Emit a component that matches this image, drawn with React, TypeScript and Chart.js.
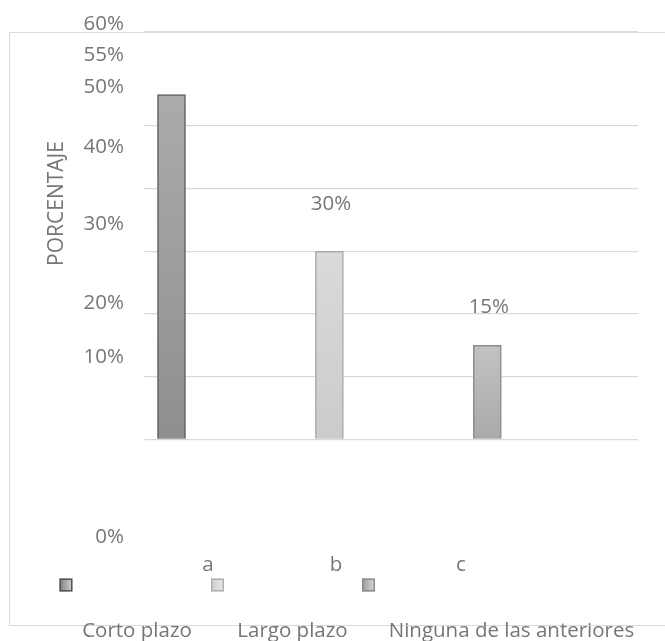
import React, { useEffect, useRef } from "react";
import { Chart, registerables } from "chart.js";

Chart.register(...registerables);

// ---------- data ----------
const categories = ["a", "b", "c"];
const seriesNames = ["Corto plazo", "Largo plazo", "Ninguna de las anteriores"];
const values = [55, 30, 15];
const valueLabels = ["", "30%", "15%"];
const yTickLabels = ["60%", "55%", "50%", "40%", "30%", "20%", "10%", "0%"];
const gridValues = [0, 10, 20, 30, 40, 50, 65];
const yTitle = "PORCENTAJE";

// ---------- layout / style ----------
const W = 665;
const H = 641;
const FONT = "20.5px 'Open Sans', 'DejaVu Sans', sans-serif";
const TITLE_FONT = "21px 'Open Sans', 'DejaVu Sans', sans-serif";
const TEXT = "#767676";
const tickBaselines = [30, 60.7, 92.7, 152.7, 230, 309.3, 362.7, 543.3];
const tickRight = 124;
const catLabelX = [208, 336, 461];
const catLabelBaseline = 571;
const legendBoxX = [66, 217.5, 368.5];
const legendBoxY = 585;
const legendBoxSize = 13;
const legendTextX = [137, 292.5, 511.5];
const legendTextBaseline = 637;
const labelLift = [0, 41, 32];
const barTop = ["#ababab", "#dadada", "#c2c2c2"];
const barBottom = ["#8f8f8f", "#cbcbcb", "#a9a9a9"];
const barBorder = ["#5e5e5e", "#a9a9a9", "#8c8c8c"];
const boxLeft = ["#7c7c7c", "#cdcdcd", "#9a9a9a"];
const boxRight = ["#d2d2d2", "#e8e8e8", "#dadada"];
const boxBorder = ["#555555", "#b0b0b0", "#8a8a8a"];

const decorPlugin = {
  id: "decor",
  beforeDraw(chart: any) {
    const c = chart.ctx;
    c.save();
    c.fillStyle = "#ffffff";
    c.fillRect(0, 0, W, H);
    c.strokeStyle = "#d9d9d9";
    c.lineWidth = 1;
    c.strokeRect(9.5, 32.5, 720, 593);
    c.restore();
  },
  afterDraw(chart: any) {
    const c = chart.ctx;
    c.save();
    c.font = FONT;
    c.fillStyle = TEXT;
    // y tick labels
    c.textAlign = "right";
    c.textBaseline = "alphabetic";
    yTickLabels.forEach((t, i) => c.fillText(t, tickRight, tickBaselines[i]));
    // y title
    c.save();
    c.font = TITLE_FONT;
    c.translate(57.5, 203.5);
    c.rotate(-Math.PI / 2);
    c.textAlign = "center";
    c.textBaseline = "middle";
    c.fillText(yTitle, 0, 0);
    c.restore();
    // category labels
    c.textAlign = "center";
    categories.forEach((t, i) => c.fillText(t, catLabelX[i], catLabelBaseline));
    // data labels
    const meta = chart.getDatasetMeta(0);
    meta.data.forEach((bar: any, i: number) => {
      if (!valueLabels[i]) return;
      c.fillText(valueLabels[i], bar.x + 1.5, bar.y - labelLift[i]);
    });
    // legend
    seriesNames.forEach((name, i) => {
      const x0 = legendBoxX[i] - legendBoxSize / 2;
      const y0 = legendBoxY - legendBoxSize / 2;
      const g = c.createLinearGradient(x0, 0, x0 + legendBoxSize, 0);
      g.addColorStop(0, boxLeft[i]);
      g.addColorStop(1, boxRight[i]);
      c.fillStyle = g;
      c.fillRect(x0, y0, legendBoxSize, legendBoxSize);
      c.strokeStyle = boxBorder[i];
      c.lineWidth = 1.5;
      c.strokeRect(x0 + 0.75, y0 + 0.75, legendBoxSize - 1.5, legendBoxSize - 1.5);
      c.fillStyle = TEXT;
      c.textAlign = "center";
      c.fillText(name, legendTextX[i], legendTextBaseline);
    });
    c.restore();
  },
};

export default function App() {
  const ref = useRef<HTMLCanvasElement | null>(null);
  useEffect(() => {
    if (!ref.current) return;
    const chart = new Chart(ref.current, {
      type: "bar",
      data: {
        datasets: [
          {
            label: "Porcentaje",
            data: values.map((v, i) => ({ x: i, y: v })),
            barThickness: 28,
            borderWidth: 1.5,
            borderSkipped: "start",
            backgroundColor: (ctx: any) => {
              const i = ctx.dataIndex;
              if (i === undefined) return "#aaaaaa";
              const ch = ctx.chart;
              const ys = ch.scales.y;
              if (!ch.chartArea || !ys) return barTop[i];
              const top = ys.getPixelForValue(values[i]);
              const bottom = ys.getPixelForValue(0);
              const g = ch.ctx.createLinearGradient(0, top, 0, bottom);
              g.addColorStop(0, barTop[i]);
              g.addColorStop(1, barBottom[i]);
              return g;
            },
            borderColor: (ctx: any) =>
              ctx.dataIndex === undefined ? "#777" : barBorder[ctx.dataIndex],
          },
        ],
      },
      options: {
        responsive: false,
        animation: false,
        devicePixelRatio: 1,
        layout: { padding: { left: 144, right: 27, top: 32, bottom: 201.7 } },
        plugins: { legend: { display: false }, tooltip: { enabled: false } },
        scales: {
          x: {
            type: "linear",
            offset: false,
            min: -0.174,
            max: 2.954,
            display: false,
          },
          y: {
            min: 0,
            max: 65,
            afterBuildTicks: (s: any) => {
              s.ticks = gridValues.map((v) => ({ value: v }));
            },
            ticks: { display: false },
            border: { display: false },
            grid: { color: "#d9d9d9", lineWidth: 1.2, drawTicks: false, tickLength: 0 },
          },
        },
      },
      plugins: [decorPlugin],
    } as any);
    return () => chart.destroy();
  }, []);
  return (
    <div style={{ position: "absolute", left: 0, top: 0, width: W, height: H, background: "#fff" }}>
      <canvas ref={ref} width={W} height={H} style={{ display: "block", width: W, height: H }} />
    </div>
  );
}
